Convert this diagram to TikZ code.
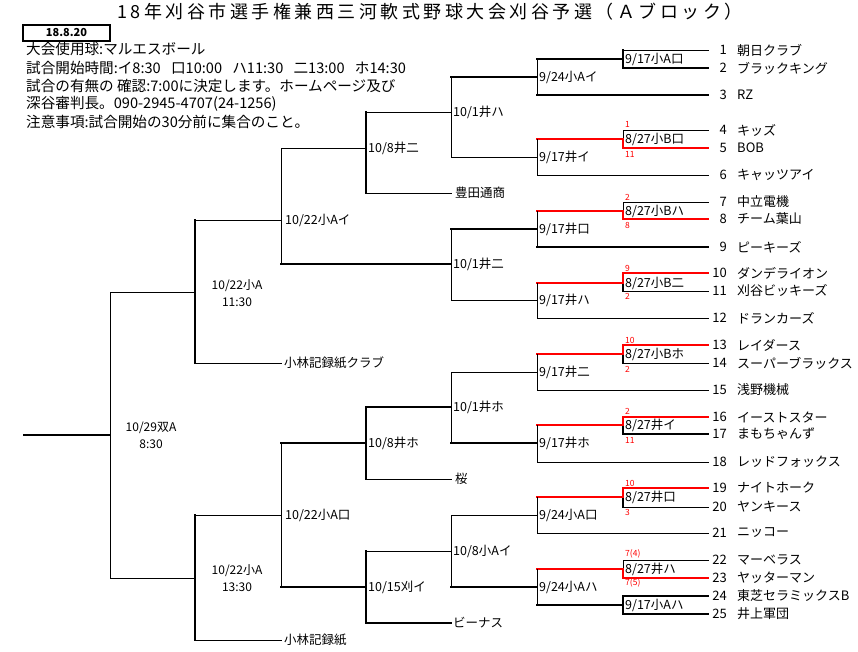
\documentclass[tikz,border=0pt]{standalone}
\usepackage{fontspec}
\setmainfont{Noto Sans CJK JP}
\newfontfamily\titlefont[LetterSpace=19.5]{Noto Sans CJK JP}
\begin{document}
\begin{tikzpicture}[x=1pt,y=-1pt,
  thn/.style={line width=1pt,black,line cap=rect},
  thk/.style={line width=2.3pt,black,line cap=rect},
  rd/.style={line width=2.8pt,red,line cap=rect},
  rdm/.style={line width=1.9pt,red,line cap=rect},
  lbl/.style={anchor=west,inner sep=0pt,font=\fontsize{12.5}{13}\selectfont},
  tname/.style={anchor=west,inner sep=0pt,font=\fontsize{13}{14}\selectfont},
  tnum/.style={anchor=east,inner sep=0pt,font=\fontsize{13}{14}\selectfont},
  info/.style={anchor=west,inner sep=0pt,font=\fontsize{14.6}{15}\selectfont},
  score/.style={anchor=west,inner sep=0pt,text=red,font=\fontsize{8.5}{8.5}\selectfont},
  rnd/.style={align=center,inner sep=0pt,font=\fontsize{12}{17}\selectfont}]
\fill[white] (0,0) rectangle (858,651);
\useasboundingbox (0,0) rectangle (858,651);

% title and header
\node[inner sep=0pt] (title) at (430,12) {\titlefont\fontsize{18}{18}\selectfont 18年刈谷市選手権兼西三河軟式野球大会刈谷予選（Ａブロック）};
\node[draw,line width=2pt,minimum width=87pt,minimum height=16pt,inner sep=0pt,font=\bfseries\fontsize{11}{11}\selectfont] (date) at (66.5,33) {18.8.20};
\node[info] (i1) at (26,49) {大会使用球:マルエスボール};
\node[info] (i2) at (26,68) {試合開始時間:イ8:30\hspace{0.7em}口10:00\hspace{0.7em}ハ11:30\hspace{0.7em}二13:00\hspace{0.7em}ホ14:30};
\node[info] (i3) at (26,86) {試合の有無の 確認:7:00に決定します。ホームページ及び};
\node[info] (i4) at (26,104) {深谷審判長。090-2945-4707(24-1256)};
\node[info] (i5) at (26,122) {注意事項:試合開始の30分前に集合のこと。};

% teams
\foreach \y/\n/\nm/\st/\xs in {
 50/1/朝日クラブ/thn/623, 68/2/ブラックキング/thk/623, 95/3/RZ/thk/537,
 130/4/キッズ/thn/623, 148/5/BOB/rd/623, 175/6/キャッツアイ/thn/537,
 202/7/中立電機/thn/623, 219/8/チーム葉山/rdm/623, 247/9/ピーキーズ/thk/537,
 273/10/ダンデライオン/rd/623, 291/11/刈谷ビッキーズ/thn/623, 318/12/ドランカーズ/thn/537,
 345/13/レイダース/rd/623, 363/14/スーパーブラックス/thn/623, 390/15/浅野機械/thn/537,
 417/16/イーストスター/rd/623, 434/17/まもちゃんず/thk/623, 462/18/レッドフォックス/thn/537,
 488/19/ナイトホーク/rd/623, 507/20/ヤンキース/thn/623, 533/21/ニッコー/thn/537,
 560/22/マーベラス/thn/623, 578/23/ヤッターマン/rdm/623, 596/24/東芝セラミックスB/thk/623,
 614/25/井上軍団/thk/623}{
  \draw[\st] (\xs,\y) -- (708,\y);
  \node[tnum] (num\n) at (727,\y) {\n};
  \node[tname] (nm\n) at (737,\y) {\nm};
}

% round 1 verticals
\draw[thk] (623,50)--(623,68);
\draw[thn] (623,130)--(623,139); \draw[rd] (623,139)--(623,148);
\draw[thn] (623,202)--(623,211); \draw[rdm] (623,211)--(623,219);
\draw[rd] (623,273)--(623,283); \draw[thk] (623,283)--(623,291);
\draw[rd] (623,345)--(623,354); \draw[thk] (623,354)--(623,363);
\draw[rd] (623,417)--(623,425); \draw[thk] (623,425)--(623,434);
\draw[rd] (623,488)--(623,497); \draw[thk] (623,497)--(623,507);
\draw[thn] (623,560)--(623,569); \draw[rd] (623,569)--(623,578);
\draw[thk] (623,596)--(623,614);
% round 1 outputs
\draw[thk] (537,59)--(623,59);
\foreach \y in {139,211,283,354,425,497,569} \draw[rd] (537,\y)--(623,\y);
\draw[thk] (537,605)--(623,605);
% round 2 verticals
\foreach \a/\b in {59/95,139/175,211/247,283/318,354/390,425/462,497/533,569/605} \draw[thn] (537,\a)--(537,\b);
% round 2 outputs
\foreach \y/\st in {77/thk,157/thn,229/thk,300/thn,372/thn,443/thk,515/thn,587/thk} \draw[\st] (451,\y)--(537,\y);
% round 3
\foreach \a/\b in {77/157,229/300,372/443,515/587} \draw[thn] (451,\a)--(451,\b);
\draw[thn] (366,112)--(451,112);
\draw[thk] (366,407)--(451,407);
\draw[thn] (366,551)--(451,551);
\draw[thk] (281,264)--(451,264);
\draw[thn] (366,193)--(451,193);
\draw[thn] (366,479)--(451,479);
\draw[thk] (366,623)--(451,623);
% round 4
\draw[thk] (366,112)--(366,193);
\draw[thk] (366,407)--(366,479);
\draw[thk] (366,551)--(366,623);
\draw[thn] (281,148)--(366,148);
\draw[thk] (281,443)--(366,443);
\draw[thk] (281,587)--(366,587);
% round 5
\draw[thn] (281,148)--(281,264);
\draw[thn] (281,443)--(281,587);
\draw[thn] (195,220)--(281,220);
\draw[thn] (195,515)--(281,515);
\draw[thn] (195,363)--(281,363);
\draw[thn] (195,640)--(281,640);
% round 6
\draw[thk] (195,220)--(195,363);
\draw[thk] (195,515)--(195,640);
\draw[thn] (110,292)--(195,292);
\draw[thn] (110,578)--(195,578);
% final
\draw[thn] (110,292)--(110,578);
\draw[thk] (24,435)--(110,435);

% match labels round 1
\foreach \y/\t [count=\i] in {59/9\slash17小A口,139/8\slash27小B口,211/8\slash27小Bハ,283/8\slash27小B二,354/8\slash27小Bホ,425/8\slash27井イ,497/8\slash27井口,569/8\slash27井ハ,605/9\slash17小Aハ}
  \node[lbl] (ma\i) at (625,\y) {\t};
% round 2 labels
\foreach \y/\t [count=\i] in {77/9\slash24小Aイ,157/9\slash17井イ,229/9\slash17井口,300/9\slash17井ハ,372/9\slash17井二,443/9\slash17井ホ,515/9\slash24小A口,587/9\slash24小Aハ}
  \node[lbl] (mb\i) at (539,\y) {\t};
% round 3 labels
\foreach \y/\t [count=\i] in {112/10\slash1井ハ,264/10\slash1井二,407/10\slash1井ホ,551/10\slash8小Aイ}
  \node[lbl] (mc\i) at (453,\y) {\t};
% round 4 labels
\foreach \y/\t [count=\i] in {148/10\slash8井二,443/10\slash8井ホ,587/10\slash15刈イ}
  \node[lbl] (md\i) at (368,\y) {\t};
\node[lbl] (me1) at (285,220) {10/22小Aイ};
\node[lbl] (me2) at (285,515) {10/22小A口};
\node[rnd] (mf1) at (237,293) {10/22小A\\11:30};
\node[rnd] (mf2) at (237,578) {10/22小A\\13:30};
\node[rnd] (mg1) at (151,435) {10/29双A\\8:30};

% byes
\node[lbl] (b1) at (455,193) {豊田通商};
\node[lbl] (b2) at (455,479) {桜};
\node[lbl] (b3) at (453,623) {ビーナス};
\node[lbl] (b4) at (284,363) {小林記録紙クラブ};
\node[lbl] (b5) at (284,640) {小林記録紙};

% scores
\foreach \y/\t [count=\i] in {124/1,154/11,197/2,225/8,268/9,296/2,340/10,369/2,411/2,440/11,483/10,512/3,554/7(4),583/7(5)}
  \node[score] (s\i) at (625,\y) {\t};
\end{tikzpicture}
\end{document}
